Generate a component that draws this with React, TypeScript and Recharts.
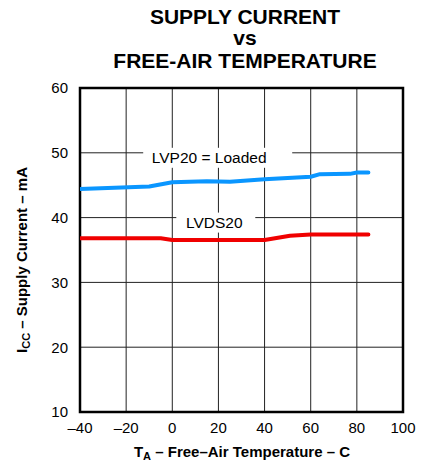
import React from 'react';
import {
  LineChart,
  Line,
  XAxis,
  YAxis,
  CartesianGrid,
  ReferenceArea,
  ReferenceDot,
} from 'recharts';

// ---- data ----
const xTicks = [-40, -20, 0, 20, 40, 60, 80, 100];
const yTicks = [10, 20, 30, 40, 50, 60];

const lvp20Temps = [-40, -10, 0, 15, 25, 40, 60, 64, 77, 80, 85];
const lvp20Values = [44.4, 44.8, 45.45, 45.6, 45.55, 45.9, 46.3, 46.7, 46.75, 46.95, 46.95];

const lvds20Temps = [-40, -5, 0, 40, 51, 60, 85];
const lvds20Values = [36.8, 36.8, 36.55, 36.55, 37.2, 37.4, 37.4];

const titleLines = ['SUPPLY CURRENT', 'vs', 'FREE-AIR TEMPERATURE'];

const seriesLabels = [
  { text: 'LVP20 = Loaded', t: 16, i: 50 },
  { text: 'LVDS20', t: 18.2, i: 40 },
];

// ---- layout / style config ----
const labelBoxes = [
  { left: -66, right: 83 },
  { left: -38, right: 41 },
];

const FONT = '"Liberation Sans", Arial, Helvetica, sans-serif';

const lvp20Data = lvp20Temps.map((t, k) => ({ t, v: lvp20Values[k] }));
const lvds20Data = lvds20Temps.map((t, k) => ({ t, v: lvds20Values[k] }));

const fmt = (v: number) => (v < 0 ? '\u2013' + Math.abs(v) : String(v));

const makeLabelShape = (idx: number) => (props: any) => {
  const { cx, cy } = props;
  const box = labelBoxes[idx];
  const baseline = cy + 10;
  return (
    <g>
      <rect
        x={cx + box.left}
        y={baseline - 15}
        width={box.right - box.left}
        height={20}
        fill="#fff"
        stroke="none"
      />
      <text
        x={cx}
        y={baseline}
        textAnchor="middle"
        fontFamily={FONT}
        fontSize={15.5}
        fill="#000"
      >
        {seriesLabels[idx].text}
      </text>
    </g>
  );
};

export default function App() {
  return (
    <div style={{ position: 'absolute', left: 0, top: 0, width: 423, height: 468, background: '#fff' }}>
      <LineChart
        width={423}
        height={468}
        margin={{ top: 88, right: 20, bottom: 0, left: 0 }}
        style={{ fontFamily: FONT }}
      >
        <CartesianGrid stroke="#222" strokeWidth={1} />
        <XAxis
          dataKey="t"
          type="number"
          domain={[-40, 100]}
          ticks={xTicks}
          tickFormatter={fmt}
          height={56}
          axisLine={false}
          tickLine={false}
          tickMargin={4}
          tick={{ fill: '#000', fontSize: 15, fontFamily: FONT }}
          allowDataOverflow
        />
        <YAxis
          type="number"
          domain={[10, 60]}
          ticks={yTicks}
          width={80}
          axisLine={false}
          tickLine={false}
          tickMargin={6}
          tick={{ fill: '#000', fontSize: 15, fontFamily: FONT }}
          allowDataOverflow
        />
        {seriesLabels.map((l, idx) => (
          <ReferenceDot
            key={l.text}
            x={l.t}
            y={l.i}
            r={0}
            shape={makeLabelShape(idx)}
          />
        ))}
        <ReferenceArea
          x1={-40}
          x2={100}
          y1={10}
          y2={60}
          fill="none"
          fillOpacity={0}
          stroke="#000"
          strokeWidth={2.5}
          ifOverflow="visible"
        />
        <Line
          data={lvp20Data}
          dataKey="v"
          type="linear"
          stroke="#0a96ff"
          strokeWidth={4}
          dot={false}
          activeDot={false}
          isAnimationActive={false}
          strokeLinejoin="round"
          strokeLinecap="round"
        />
        <Line
          data={lvds20Data}
          dataKey="v"
          type="linear"
          stroke="#f00000"
          strokeWidth={4}
          dot={false}
          activeDot={false}
          isAnimationActive={false}
          strokeLinejoin="round"
          strokeLinecap="round"
        />
      </LineChart>
      <svg
        width={423}
        height={468}
        style={{ position: 'absolute', left: 0, top: 0, pointerEvents: 'none' }}
      >
        {titleLines.map((line, k) => (
          <text
            key={line}
            x={245}
            y={[24, 45, 68][k]}
            textAnchor="middle"
            fontFamily={FONT}
            fontWeight="bold"
            fontSize={21}
            fill="#000"
          >
            {line}
          </text>
        ))}
        <text x={242} y={457} textAnchor="middle" fontFamily={FONT} fontWeight="bold" fontSize={15} fill="#000">
          T<tspan fontSize={11} dy={3}>A</tspan>
          <tspan dy={-3}>{' \u2013 Free\u2013Air Temperature \u2013 C'}</tspan>
        </text>
        <text
          x={0}
          y={0}
          transform="translate(27,260) rotate(-90)"
          textAnchor="middle"
          fontFamily={FONT}
          fontWeight="bold"
          fontSize={15}
          fill="#000"
        >
          I<tspan fontSize={11} dy={3}>CC</tspan>
          <tspan dy={-3}>{' \u2013 Supply Current \u2013 mA'}</tspan>
        </text>
      </svg>
    </div>
  );
}
